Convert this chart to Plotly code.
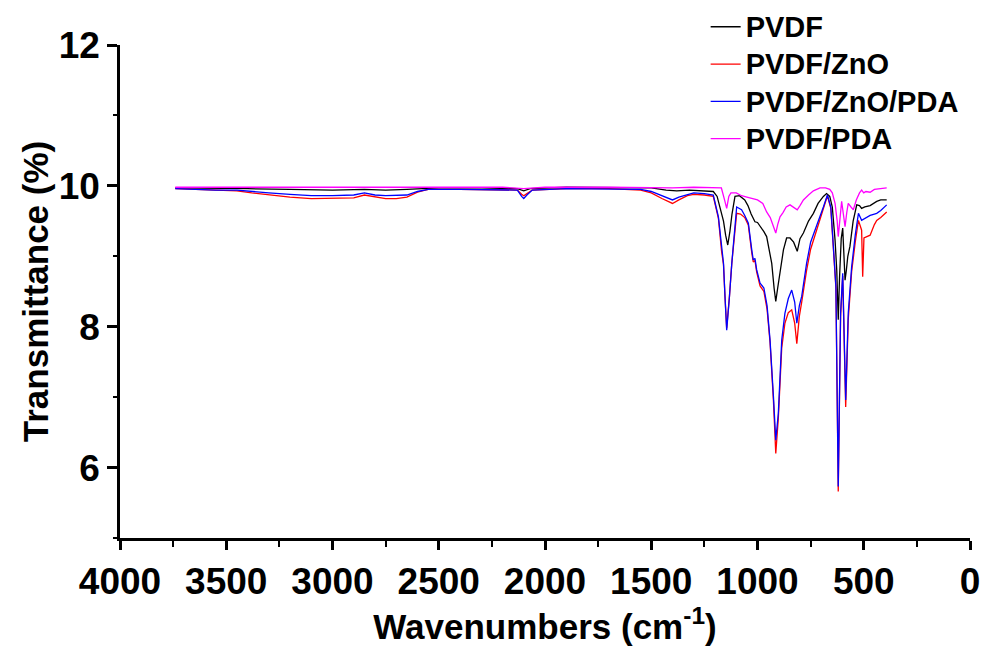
import plotly.graph_objects as go

# ---------------- data ----------------
pvdf_x = [3740, 3600, 3400, 3200, 3000, 2850, 2750, 2650, 2500, 2300, 2130, 2100, 2070,
          1900, 1700, 1500, 1430, 1380, 1320, 1250, 1208, 1190, 1176, 1160, 1150, 1140,
          1130, 1120, 1106, 1085, 1060, 1045, 1030, 1012, 1000, 985, 970, 957, 945, 933,
          922, 914, 905, 894, 878, 863, 847, 830, 813, 800, 784, 760, 737, 715, 690, 675,
          660, 648, 635, 627, 620, 614, 606, 599, 593, 588, 582, 575, 565, 550, 533, 520,
          510, 495, 470, 439, 420, 392]
pvdf_y = [9.97, 9.97, 9.96, 9.95, 9.94, 9.95, 9.94, 9.95, 9.97, 9.97, 9.96, 9.93, 9.96,
          9.98, 9.98, 9.97, 9.94, 9.93, 9.94, 9.93, 9.92, 9.85, 9.70, 9.50, 9.30, 9.16,
          9.35, 9.60, 9.85, 9.86, 9.80, 9.72, 9.60, 9.49, 9.48, 9.42, 9.35, 9.28, 9.10, 8.90,
          8.55, 8.36, 8.55, 8.80, 9.09, 9.26, 9.26, 9.20, 9.07, 9.25, 9.33, 9.50, 9.61, 9.75, 9.85, 9.89,
          9.85, 9.70, 9.23, 8.80, 8.10, 8.70, 9.25, 9.40, 9.00, 8.66, 8.80, 9.00, 9.14, 9.50, 9.73, 9.72,
          9.68, 9.70, 9.72, 9.78, 9.80, 9.80]

zno_x = [3740, 3650, 3550, 3450, 3380, 3300, 3200, 3100, 3000, 2900, 2850, 2800, 2750, 2700,
         2650, 2600, 2550, 2400, 2200, 2130, 2110, 2100, 2085, 2060, 1900, 1700, 1550, 1500,
         1450, 1400, 1370, 1330, 1300, 1250, 1208, 1184, 1169, 1160, 1153, 1145, 1132, 1121,
         1098, 1080, 1060, 1043, 1027, 1020, 1012, 1004, 988, 970, 955, 941, 925, 914, 902,
         886, 871, 855, 839, 825, 815, 803, 792, 769, 750, 729, 700, 690, 671, 655, 643, 631,
         620, 609, 599, 592, 585, 573, 557, 540, 525, 510, 505, 499, 470, 450, 439, 420, 392]
zno_y = [9.96, 9.95, 9.94, 9.93, 9.90, 9.87, 9.84, 9.82, 9.82, 9.83, 9.87, 9.84, 9.82, 9.82,
         9.84, 9.91, 9.95, 9.95, 9.95, 9.94, 9.88, 9.86, 9.89, 9.94, 9.96, 9.96, 9.94, 9.90,
         9.82, 9.75, 9.80, 9.86, 9.88, 9.87, 9.85, 9.54, 9.07, 8.88, 8.43, 7.98, 8.43, 8.90,
         9.61, 9.60, 9.55, 9.44, 9.05, 8.92, 8.94, 8.78, 8.58, 8.50, 8.25, 7.78, 6.95, 6.20, 6.70,
         7.70, 8.05, 8.20, 8.24, 8.05, 7.76, 8.15, 8.35, 8.80, 9.10, 9.30, 9.55, 9.65, 9.86, 9.68, 9.10, 8.55,
         5.66, 8.15, 8.72, 7.95, 6.86, 8.10, 8.78, 9.20, 9.51, 9.37, 8.71, 9.26, 9.30, 9.45, 9.51, 9.55, 9.63]

zno_pda_x = [3740, 3650, 3550, 3450, 3380, 3300, 3200, 3100, 3000, 2900, 2850, 2800, 2750, 2700,
             2650, 2600, 2550, 2400, 2200, 2130, 2110, 2100, 2085, 2060, 1900, 1700, 1550, 1500,
             1450, 1400, 1370, 1330, 1300, 1250, 1208, 1184, 1169, 1160, 1153, 1145, 1132, 1121,
             1098, 1075, 1060, 1043, 1027, 1020, 1012, 1004, 988, 970, 955, 941, 925, 914, 902,
             886, 871, 855, 839, 825, 815, 803, 792, 769, 750, 729, 700, 690, 671, 655, 643, 631,
             620, 609, 599, 592, 585, 573, 557, 540, 525, 510, 490, 470, 450, 439, 420, 392]
zno_pda_y = [9.96, 9.95, 9.94, 9.94, 9.92, 9.90, 9.88, 9.86, 9.86, 9.87, 9.90, 9.87, 9.86, 9.86,
             9.87, 9.92, 9.95, 9.95, 9.95, 9.94, 9.85, 9.82, 9.87, 9.94, 9.96, 9.96, 9.95, 9.92,
             9.86, 9.80, 9.84, 9.88, 9.90, 9.89, 9.87, 9.56, 9.09, 8.90, 8.43, 7.95, 8.43, 8.90,
             9.70, 9.66, 9.58, 9.47, 9.09, 8.95, 8.97, 8.81, 8.62, 8.55, 8.30, 7.81, 7.01, 6.39, 6.77,
             7.81, 8.19, 8.40, 8.52, 8.35, 8.05, 8.30, 8.43, 8.90, 9.20, 9.37, 9.62, 9.70, 9.87, 9.70, 9.14, 8.57,
             5.73, 8.19, 8.76, 8.00, 6.96, 8.19, 8.85, 9.30, 9.61, 9.51, 9.55, 9.58, 9.60, 9.61, 9.65, 9.73]

pda_x = [3740, 3500, 3200, 3000, 2800, 2500, 2200, 2100, 2000, 1700, 1400, 1300, 1200, 1170,
         1155, 1145, 1135, 1125, 1100, 1075, 1050, 1020, 1000, 975, 957, 940, 925, 914, 905,
         894, 880, 865, 847, 830, 813, 800, 784, 760, 737, 706, 680, 660, 648, 635, 625, 620,
         612, 604, 596, 588, 580, 573, 560, 549, 535, 520, 510, 500, 490, 470, 450, 420, 392]
pda_y = [9.98, 9.98, 9.97, 9.97, 9.97, 9.98, 9.98, 9.96, 9.98, 9.98, 9.97, 9.98, 9.98, 9.97,
         9.80, 9.68, 9.85, 9.90, 9.90, 9.86, 9.84, 9.82, 9.80, 9.75, 9.63, 9.55, 9.42, 9.33, 9.45,
         9.56, 9.62, 9.70, 9.73, 9.70, 9.66, 9.72, 9.80, 9.87, 9.93, 9.97, 9.97, 9.95, 9.90, 9.75, 9.50, 9.28,
         9.55, 9.78, 9.60, 9.42, 9.62, 9.75, 9.70, 9.66, 9.80, 9.90, 9.94, 9.90, 9.92, 9.91, 9.95, 9.96, 9.97]

series = [
    ("PVDF", pvdf_x, pvdf_y, "#000000"),
    ("PVDF/ZnO", zno_x, zno_y, "#ff0000"),
    ("PVDF/ZnO/PDA", zno_pda_x, zno_pda_y, "#0000ff"),
    ("PVDF/PDA", pda_x, pda_y, "#ff00ff"),
]

x_ticks = [4000, 3500, 3000, 2500, 2000, 1500, 1000, 500, 0]
y_ticks = [6, 8, 10, 12]

FONT = "Arial, 'Liberation Sans', sans-serif"

fig = go.Figure()
for name, xs, ys, col in series:
    fig.add_trace(go.Scatter(x=xs, y=ys, mode="lines",
                             name='<span style="font-size:29px">%s</span>' % name,
                             line=dict(color=col, width=1.3)))

fig.update_layout(
    width=981, height=646,
    paper_bgcolor="white", plot_bgcolor="white",
    margin=dict(l=120, r=11, t=45, b=108, autoexpand=False),
    font=dict(family=FONT, color="black"),
    showlegend=True,
    legend=dict(x=0.689, y=1.085, xanchor="left", yanchor="top",
                bgcolor="rgba(0,0,0,0)",
                font=dict(family=FONT, size=26.4, color="black", weight="bold")),
    xaxis=dict(range=[4000, 0], tickvals=x_ticks, ticktext=[str(v) for v in x_ticks],
               showgrid=False, zeroline=False, showline=True, linecolor="black", linewidth=2.5,
               ticks="outside", ticklen=9, tickwidth=2.5, tickcolor="black",
               ticklabeloverflow="allow",
               minor=dict(dtick=250, tick0=0, ticks="outside", ticklen=6, tickwidth=2, tickcolor="black", showgrid=False),
               tickfont=dict(family=FONT, size=37, color="black", weight="bold"),
               automargin=False,
               title=dict(text="Wavenumbers (cm<sup>-1</sup>)", standoff=18,
                          font=dict(family=FONT, size=35, color="black", weight="bold"))),
    yaxis=dict(range=[5, 12], tickvals=y_ticks, ticktext=[str(v) for v in y_ticks],
               showgrid=False, zeroline=False, showline=True, linecolor="black", linewidth=2.5,
               ticks="outside", ticklen=10, tickwidth=2.5, tickcolor="black",
               minor=dict(dtick=1, tick0=5, ticks="outside", ticklen=4, tickwidth=2, tickcolor="black", showgrid=False),
               tickfont=dict(family=FONT, size=37, color="black", weight="bold"),
               automargin=False,
               title=dict(text="Transmittance (%)", standoff=0,
                          font=dict(family=FONT, size=35, color="black", weight="bold"))),
)

# remove the default page margin so the figure fills the window exactly; hide the modebar
fig.write_html("out.html", config={"displayModeBar": False},
               post_script="document.body.style.margin='0';document.body.style.overflow='hidden';")
